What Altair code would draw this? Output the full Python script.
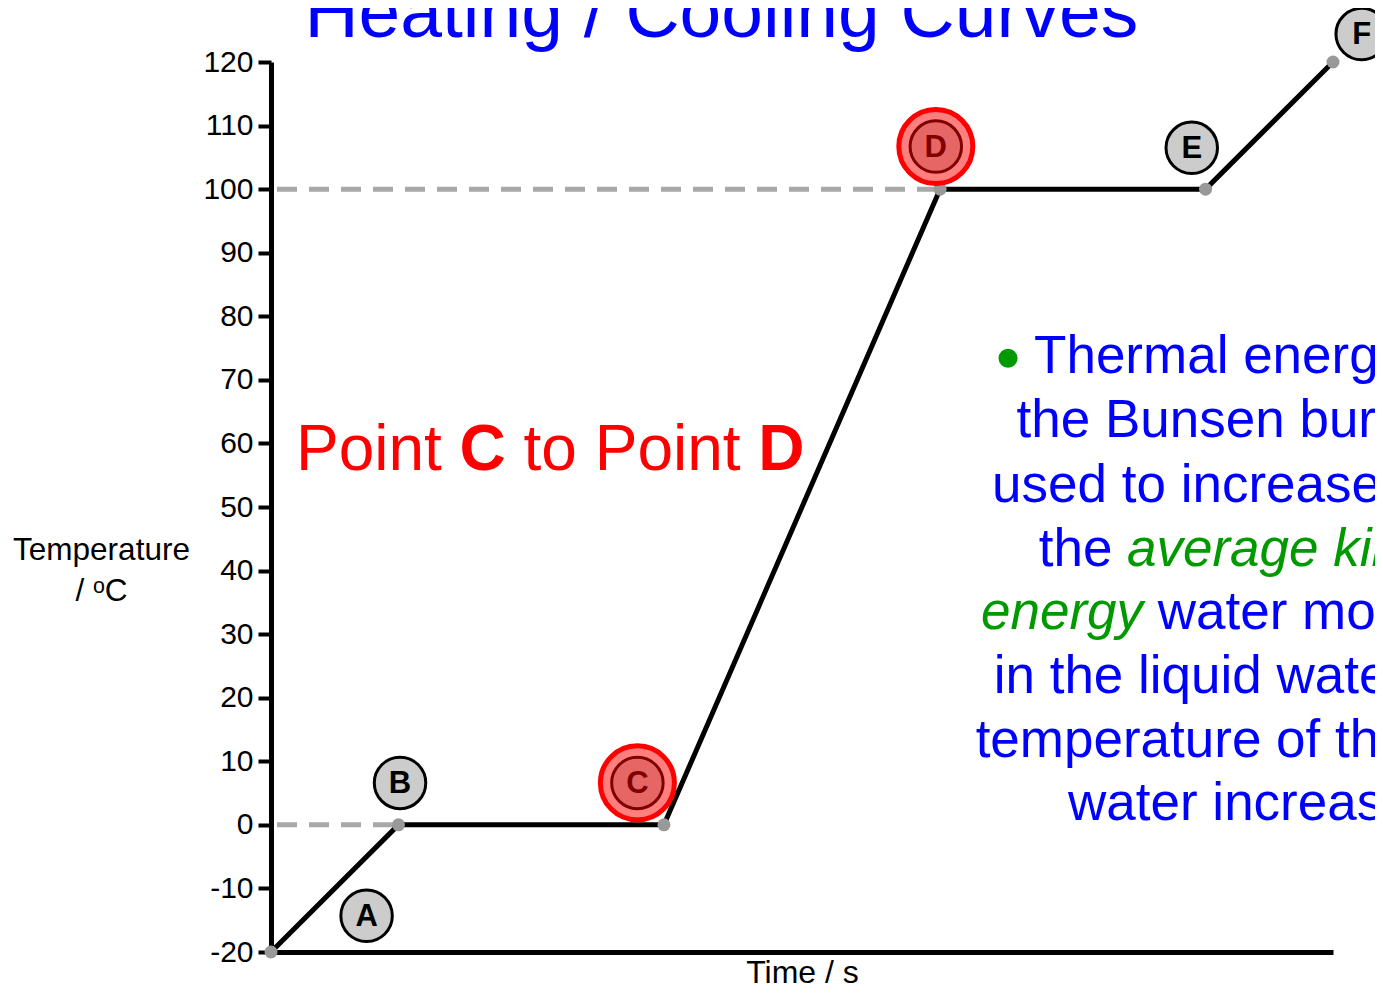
import altair as alt
import pandas as pd

FONT = "Liberation Sans"

# ---- data ----
time_s = [0, 12, 37, 63, 88, 100]
temp_c = [-20, 0, 0, 100, 100, 120]
point_labels = ["A", "B", "C", "D", "E", "F"]
highlighted = ["C", "D"]
y_ticks = list(range(-20, 121, 10))

# plateau reference temperatures (dashed) and where each plateau starts
plateau_temp = [0, 100]
plateau_start = [12, 63]

# where the letter bubbles sit (data units)
bubble_x = [9.0, 12.15, 34.5, 62.6, 86.7, 102.7]
bubble_y = [-14.3, 6.6, 6.6, 106.7, 106.5, 124.4]

xs = alt.Scale(domain=[0, 100], nice=False, zero=False)
ys = alt.Scale(domain=[-20, 120], nice=False, zero=False)

xaxis = alt.Axis(
    domainColor="black", domainWidth=5, ticks=False, labels=False, grid=False,
    title="Time / s", titleFont=FONT, titleFontSize=32, titleFontWeight="normal",
    titleColor="black", titleAlign="center", titleBaseline="alphabetic",
    titleX=531, titleY=30,
)
yaxis = alt.Axis(
    values=y_ticks, domainColor="black", domainWidth=5, tickColor="black",
    tickWidth=4, tickSize=13, labelFont=FONT, labelFontSize=30, labelColor="black",
    labelPadding=5, grid=False, labelExpr="'' + datum.value",
    title=["Temperature", "/ \u1d52C"], titleAngle=0, titleFont=FONT, titleFontSize=31.5,
    titleFontWeight="normal", titleColor="black", titleAlign="center",
    titleBaseline="alphabetic", titleX=-170, titleY=497, titleLineHeight=41,
)

X = alt.X("x:Q", scale=xs, axis=xaxis)
Y = alt.Y("y:Q", scale=ys, axis=yaxis)

curve = pd.DataFrame({"x": time_s, "y": temp_c, "label": point_labels})
dash_df = pd.DataFrame({"x": [0, 0], "x2": plateau_start, "y": plateau_temp})
bubbles = pd.DataFrame({"x": bubble_x, "y": bubble_y, "label": point_labels})

dashes = alt.Chart(dash_df).mark_rule(
    color="#a8a8a8", strokeWidth=5, strokeDash=[20, 12], strokeDashOffset=26
).encode(x=X, x2="x2:Q", y=Y)

line = alt.Chart(curve).mark_line(
    color="black", strokeWidth=5, strokeJoin="round"
).encode(x=X, y=Y, order="x:Q")

vertices = alt.Chart(curve).mark_point(
    shape="circle", filled=True, fill="#999999", opacity=1, size=169, strokeWidth=0
).encode(x=X, y=Y)

bubble_marks = alt.Chart(bubbles).mark_point(
    shape="circle", filled=True, fill="#cccccc", fillOpacity=1,
    stroke="black", strokeWidth=3, strokeOpacity=1, size=2650
).encode(x=X, y=Y)

bubble_text = alt.Chart(bubbles).mark_text(
    font=FONT, fontSize=31, fontWeight="bold", color="black",
    align="center", baseline="middle", dy=1
).encode(x=X, y=Y, text="label:N")

highlight = alt.Chart(bubbles).transform_filter(
    alt.FieldOneOfPredicate(field="label", oneOf=highlighted)
).mark_point(
    shape="circle", filled=True, fill="#ff0000", fillOpacity=0.5,
    stroke="#ff0000", strokeWidth=5, strokeOpacity=1, size=5480
).encode(x=X, y=Y)


def text_layer(rows, size, color, weight="normal", style="normal", align="left"):
    df = pd.DataFrame(rows, columns=["label", "x", "y"])
    return alt.Chart(df).mark_text(
        font=FONT, fontSize=size, color=color, fontWeight=weight,
        fontStyle=style, align=align, baseline="alphabetic"
    ).encode(x=X, y=Y, text="label:N")


BLUE = "#0000ff"
GREEN = "#009900"
RED = "#ff0000"

title = text_layer([("Heating / Cooling Curves", 42.4, 123.9)], 75, BLUE, align="center")

red_plain = text_layer([("Point", 2.35, 55.8), ("to Point", 23.78, 55.8)], 64, RED)
red_bold = text_layer([("C", 17.76, 55.8), ("D", 45.89, 55.8)], 64, RED, weight="bold")

blue_lines = text_layer([
    ("Thermal energy from", 71.85, 71.1),
    ("the Bunsen burner is", 70.2, 61.0),
    ("used to increase", 67.9, 50.8),
    ("the", 72.3, 40.7),
    ("water molecules", 83.5, 30.8),
    ("in the liquid water,", 68.05, 20.7),
    ("temperature of the", 66.35, 10.7),
    ("water increases.", 75.05, 0.8),
], 53, BLUE)

green_lines = text_layer([
    ("average kinetic", 80.6, 40.7),
    ("energy", 66.85, 30.8),
], 53, GREEN, style="italic")

bullet = alt.Chart(pd.DataFrame({"x": [69.4], "y": [73.4]})).mark_point(
    shape="circle", filled=True, fill=GREEN, opacity=1, size=361, strokeWidth=0
).encode(x=X, y=Y)

chart = alt.layer(
    dashes, line, vertices, bubble_marks, bubble_text, highlight,
    title, red_plain, red_bold, blue_lines, green_lines, bullet,
).properties(
    width=1062, height=890,
    padding={"left": 263, "top": 54, "right": 42, "bottom": 38},
    autosize=alt.AutoSizeParams(type="none"),
).configure(font=FONT).configure_view(stroke=None)

chart.save("out.html", embed_options={"renderer": "svg", "actions": False})
